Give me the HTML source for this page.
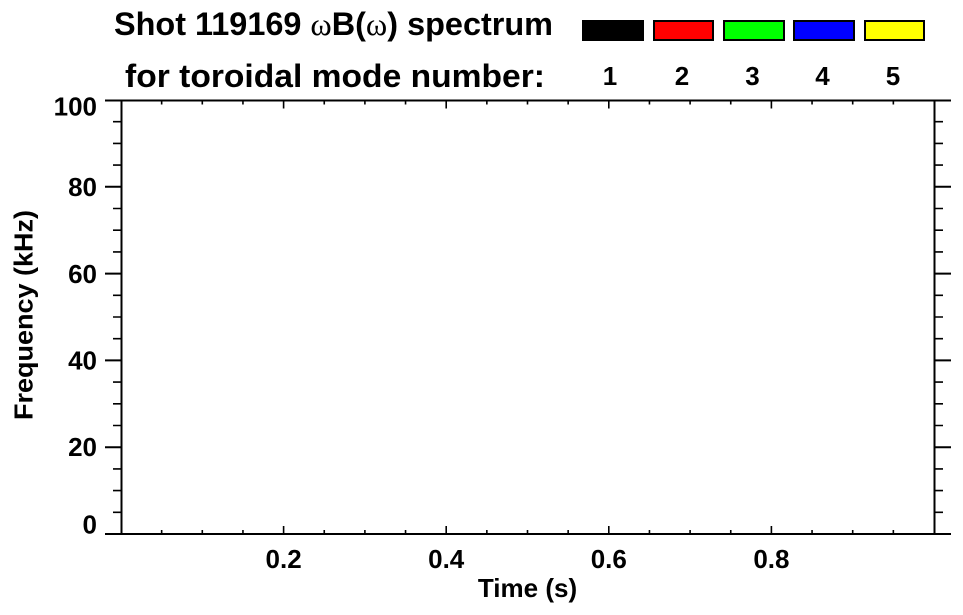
<!DOCTYPE html>
<html><head><meta charset="utf-8"><style>
html,body{margin:0;padding:0;background:#fff;}
svg{display:block;}
text{font-family:"Liberation Sans",Arial,sans-serif;font-weight:bold;fill:#000;}
.g{font-family:"Liberation Serif","DejaVu Serif",serif;font-weight:normal;}
</style></head><body>
<svg width="963" height="615" viewBox="0 0 963 615" xmlns="http://www.w3.org/2000/svg">
<rect width="963" height="615" fill="#fff"/>
<!-- title -->
<text x="114" y="35" font-size="32" textLength="439" lengthAdjust="spacingAndGlyphs">Shot 119169 <tspan class="g">ω</tspan>B(<tspan class="g">ω</tspan>) spectrum</text>
<text x="125" y="87" font-size="32" textLength="420" lengthAdjust="spacingAndGlyphs">for toroidal mode number:</text>
<!-- legend -->
<rect x="582" y="20" width="62" height="21" fill="#000"/>
<rect x="654" y="21" width="59" height="19" fill="#f00" stroke="#000" stroke-width="2"/>
<rect x="724" y="21" width="60" height="19" fill="#0f0" stroke="#000" stroke-width="2"/>
<rect x="794" y="21" width="60" height="19" fill="#00f" stroke="#000" stroke-width="2"/>
<rect x="865" y="21" width="59" height="19" fill="#ff0" stroke="#000" stroke-width="2"/>
<g font-size="26" text-anchor="middle">
<text x="610" y="85">1</text>
<text x="682" y="85">2</text>
<text x="752.5" y="85">3</text>
<text x="822.5" y="85">4</text>
<text x="893" y="85">5</text>
</g>
<!-- axes box -->
<g stroke="#000" fill="none">
<rect x="121.5" y="100.5" width="813" height="433.5" stroke-width="2"/>
<path stroke-width="2" d="M105 100.5H121.5M105 534H121.5M934.5 100.5H951M934.5 534H951
M105 447.2H121.5M105 360.4H121.5M105 273.6H121.5M105 186.8H121.5
M934.5 447.2H951M934.5 360.4H951M934.5 273.6H951M934.5 186.8H951"/>
<path stroke-width="1.6" d="
M113 512.3H121.5M113 490.6H121.5M113 468.9H121.5
M113 425.5H121.5M113 403.8H121.5M113 382.1H121.5
M113 338.7H121.5M113 317H121.5M113 295.3H121.5
M113 251.9H121.5M113 230.2H121.5M113 208.5H121.5
M113 165.1H121.5M113 143.4H121.5M113 121.7H121.5
M934.5 512.3H943M934.5 490.6H943M934.5 468.9H943
M934.5 425.5H943M934.5 403.8H943M934.5 382.1H943
M934.5 338.7H943M934.5 317H943M934.5 295.3H943
M934.5 251.9H943M934.5 230.2H943M934.5 208.5H943
M934.5 165.1H943M934.5 143.4H943M934.5 121.7H943"/>
<path stroke-width="1.6" d="
M283.6 534V526M446.2 534V526M608.8 534V526M771.4 534V526
M283.6 100.5V108.5M446.2 100.5V108.5M608.8 100.5V108.5M771.4 100.5V108.5"/>
<path stroke-width="1.6" d="
M161.65 534V530M202.3 534V530M242.95 534V530
M324.25 534V530M364.9 534V530M405.55 534V530
M486.85 534V530M527.5 534V530M568.15 534V530
M649.45 534V530M690.1 534V530M730.75 534V530
M812.05 534V530M852.7 534V530M893.35 534V530
M161.65 100.5V104.5M202.3 100.5V104.5M242.95 100.5V104.5
M324.25 100.5V104.5M364.9 100.5V104.5M405.55 100.5V104.5
M486.85 100.5V104.5M527.5 100.5V104.5M568.15 100.5V104.5
M649.45 100.5V104.5M690.1 100.5V104.5M730.75 100.5V104.5
M812.05 100.5V104.5M852.7 100.5V104.5M893.35 100.5V104.5"/>
</g>
<!-- y tick labels -->
<g font-size="26" text-anchor="end">
<text x="97" y="115.5">100</text>
<text x="97" y="196">80</text>
<text x="97" y="283">60</text>
<text x="97" y="369.5">40</text>
<text x="97" y="456">20</text>
<text x="97" y="533.5">0</text>
</g>
<!-- x tick labels -->
<g font-size="26" text-anchor="middle">
<text x="283.6" y="568">0.2</text>
<text x="446.2" y="568">0.4</text>
<text x="608.8" y="568">0.6</text>
<text x="771.4" y="568">0.8</text>
</g>
<!-- axis titles -->
<text x="527.5" y="597" font-size="26" text-anchor="middle">Time (s)</text>
<text transform="translate(32.5,315) rotate(-90)" font-size="26" text-anchor="middle" textLength="210" lengthAdjust="spacingAndGlyphs">Frequency (kHz)</text>
</svg>
</body></html>
